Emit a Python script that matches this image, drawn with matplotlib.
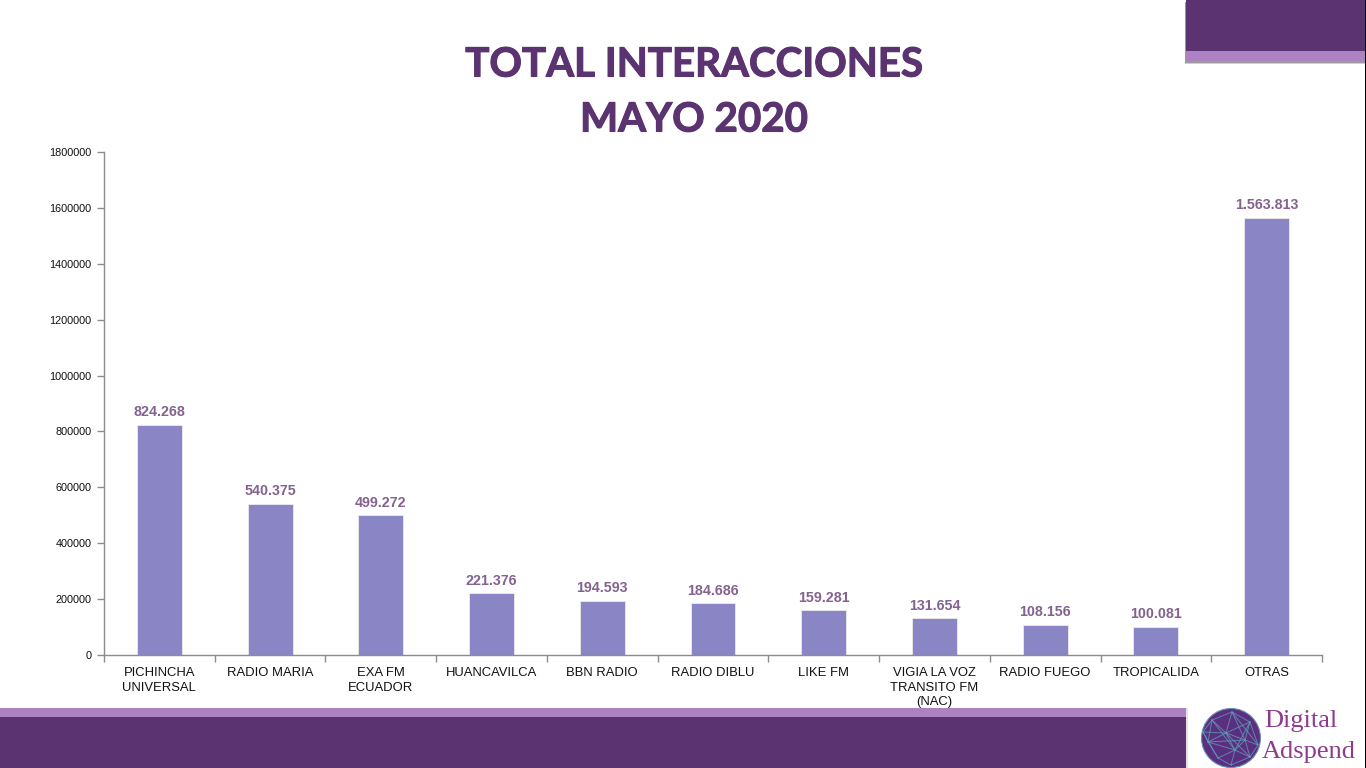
import matplotlib
matplotlib.use('Agg')
import matplotlib.pyplot as plt
import matplotlib.patheffects as pe
from matplotlib.patches import Rectangle, Circle

W, H = 1366, 768

categories = ['PICHINCHA\nUNIVERSAL', 'RADIO MARIA', 'EXA FM\nECUADOR', 'HUANCAVILCA', 'BBN RADIO',
              'RADIO DIBLU', 'LIKE FM', 'VIGIA LA VOZ\nTRANSITO FM\n(NAC)', 'RADIO FUEGO', 'TROPICALIDA', 'OTRAS']
values = [824268, 540375, 499272, 221376, 194593, 184686, 159281, 131654, 108156, 100081, 1563813]
value_labels = ['824.268', '540.375', '499.272', '221.376', '194.593', '184.686',
                '159.281', '131.654', '108.156', '100.081', '1.563.813']
y_ticks = [0, 200000, 400000, 600000, 800000, 1000000, 1200000, 1400000, 1600000, 1800000]

DARK = '#5A3370'
LIGHT = '#AD82C2'
BAR = '#8A86C6'
GREY = '#8C8C8C'

plt.rcParams['font.family'] = ['Liberation Sans', 'DejaVu Sans']

fig = plt.figure(figsize=(W / 100, H / 100), dpi=100, facecolor='white')


def px_axes(left, top, right, bottom):
    return fig.add_axes([left / W, 1 - bottom / H, (right - left) / W, (bottom - top) / H])


# fondo de la diapositiva en pixeles
bg = fig.add_axes([0, 0, 1, 1], zorder=0)
bg.set_xlim(0, W)
bg.set_ylim(H, 0)
bg.axis('off')
# sombras
bg.add_patch(Rectangle((1185, 2), 181, 62, fc='#D0D0D0', ec='none'))
bg.add_patch(Rectangle((1185, 2), 181, 61, fc='#9A9A9A', ec='none'))
bg.add_patch(Rectangle((1186, 0), 180, 51, fc=DARK, ec='none'))
bg.add_patch(Rectangle((1186, 51), 180, 10, fc=LIGHT, ec='none'))
bg.add_patch(Rectangle((1186, 708), 1.5, 60, fc='#E4E4E4', ec='none'))
bg.add_patch(Rectangle((0, 708), 1186, 9, fc=LIGHT, ec='none'))
bg.add_patch(Rectangle((0, 717), 1186, 51, fc=DARK, ec='none'))
bg.add_patch(Rectangle((1365, 0), 1, H, fc='black', ec='none'))

# logo
bg.add_patch(Circle((1231, 738), 29.5, fc='#5B2F80', ec='#6C8FB0', lw=0.8))
hub = [(1212, 720), (1232, 712), (1250, 722), (1208, 742), (1226, 733), (1245, 740), (1258, 745),
       (1218, 758), (1235, 750), (1250, 757), (1231, 765), (1203, 732)]
links = [(0, 1), (1, 2), (0, 4), (1, 4), (2, 4), (2, 5), (3, 4), (4, 5), (5, 6), (3, 7), (4, 8), (5, 8),
         (7, 8), (8, 9), (5, 9), (7, 10), (8, 10), (9, 10), (11, 0), (11, 3), (11, 4), (2, 6), (6, 9), (0, 3),
         (1, 5), (0, 8), (3, 8), (4, 9), (11, 7), (1, 6), (2, 8), (3, 5)]
for a, b in links:
    bg.plot([hub[a][0], hub[b][0]], [hub[a][1], hub[b][1]], color='#5FA0B8', lw=0.7, alpha=0.75)
bg.text(1301, 721, 'Digital', family=['Liberation Serif'], fontsize=19, color='#8E3A8E', ha='center', va='center')
bg.text(1309, 752, 'Adspend', family=['Liberation Serif'], fontsize=19, color='#8E3A8E', ha='center', va='center')

# titulo
title_fx = [pe.withStroke(linewidth=0.8, foreground=DARK)]
bg.text(694, 65, 'TOTAL INTERACCIONES', family=['Lato'], fontweight='bold', fontsize=29,
        color=DARK, ha='center', va='center', path_effects=title_fx)
bg.text(694, 120, 'MAYO 2020', family=['Lato'], fontweight='bold', fontsize=29,
        color=DARK, ha='center', va='center', path_effects=title_fx)

# grafico
ax = px_axes(104, 152, 1322, 655)
ax.patch.set_alpha(0)
x = list(range(len(categories)))
bars = ax.bar(x, values, width=0.405, color=BAR, edgecolor='#EBEBEB', linewidth=0.6)
ax.set_xlim(-0.5, len(categories) - 0.5)
ax.set_ylim(0, 1800000)
ax.set_yticks(y_ticks)
ax.set_yticklabels([str(v) for v in y_ticks], fontsize=7.8, color='#111111')
ax.set_xticks([i - 0.5 for i in range(len(categories) + 1)], minor=False)
ax.set_xticklabels([])
ax.tick_params(axis='y', length=5, width=1, color=GREY, pad=4)
ax.tick_params(axis='x', length=5, width=1, color=GREY)
for side in ['top', 'right']:
    ax.spines[side].set_visible(False)
for side in ['left', 'bottom']:
    ax.spines[side].set_color(GREY)
    ax.spines[side].set_linewidth(1)

for i, name in enumerate(categories):
    ax.annotate(name, (i, 0), xytext=(0, -8.6), textcoords='offset points', ha='center', va='top',
                fontsize=9.4, color='#111111', linespacing=1.3, annotation_clip=False)
for i, lab in enumerate(value_labels):
    ax.annotate(lab, (i, values[i]), xytext=(0, 4), textcoords='offset points', ha='center', va='bottom',
                fontsize=10.3, fontweight='bold', color='#83638F')

fig.savefig('out.png', dpi=100, facecolor='white')
